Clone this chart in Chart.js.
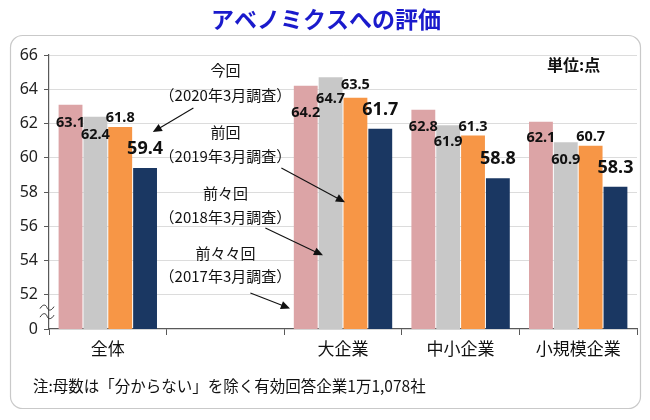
<!DOCTYPE html>
<html>
<head>
<meta charset="utf-8">
<script src="https://cdn.jsdelivr.net/npm/chart.js@4"></script>
<style>
  html, body { margin: 0; padding: 0; background: #fff; }
  #wrap { width: 650px; height: 420px; position: relative; }
</style>
</head>
<body>
<div id="wrap"><canvas id="c"></canvas></div>
<script>
// data
const categories = ["全体", "", "大企業", "中小企業", "小規模企業"];
const survey2017 = [63.1, null, 64.2, 62.8, 62.1];
const survey2018 = [62.4, null, 64.7, 61.9, 60.9];
const survey2019 = [61.8, null, 63.5, 61.3, 60.7];
const survey2020 = [59.4, null, 61.7, 58.8, 58.3];
const yTicks = [50, 52, 54, 56, 58, 60, 62, 64, 66];

const FONT = "'Noto Sans', 'Noto Sans CJK JP', sans-serif";
const JP = "'Noto Sans CJK JP', sans-serif";

// label offsets (px below bar top; negative = above)
const labelOffsets = [
    [18, 0, 27, 17, 16],
    [18, 0, 22, 17, 18],
    [-9, 0, -13, -9, -9],
    [-19, 0, -19, -19, -19]
];

// annotation text + arrows, anchored to categories / values
const notes = [
    { lines: ["今回", "（2020年3月調査）"], v: [65.1, 63.65], tail: [1, -32, 62.9], tip: [0, 45, 61.5] },
    { lines: ["前回", "（2019年3月調査）"], v: [61.5, 60.1], tail: [1, 56, 59.4], tip: [2, 2, 57.4] },
    { lines: ["前々回", "（2018年3月調査）"], v: [57.95, 56.55], tail: [1, 40, 55.9], tip: [2, -20, 54.3] },
    { lines: ["前々々回", "（2017年3月調査）"], v: [54.4, 53.05], tail: [1, 25, 52.1], tip: [2, -53, 51.2] }
];

function arrow(ctx, x1, y1, x2, y2) {
    const a = Math.atan2(y2 - y1, x2 - x1);
    const h = 10;
    ctx.beginPath();
    ctx.moveTo(x1, y1);
    ctx.lineTo(x2 - Math.cos(a) * h * 0.8, y2 - Math.sin(a) * h * 0.8);
    ctx.stroke();
    ctx.beginPath();
    ctx.moveTo(x2, y2);
    ctx.lineTo(x2 - h * Math.cos(a - 0.42), y2 - h * Math.sin(a - 0.42));
    ctx.lineTo(x2 - h * Math.cos(a + 0.42), y2 - h * Math.sin(a + 0.42));
    ctx.closePath();
    ctx.fill();
}

const decor = {
    id: "decor",
    beforeDraw(chart) {
        const ctx = chart.ctx;
        ctx.save();
        // frame
        ctx.strokeStyle = "#c9c9c9";
        ctx.lineWidth = 1.2;
        ctx.beginPath();
        ctx.roundRect(10.5, 35.5, 630, 373, 12);
        ctx.stroke();
        // title
        ctx.fillStyle = "#1a1acc";
        ctx.font = "bold 23px " + JP;
        ctx.textAlign = "center";
        ctx.textBaseline = "middle";
        ctx.fillText("アベノミクスへの評価", 326, 19);
        ctx.restore();
    },
    afterDraw(chart) {
        const ctx = chart.ctx;
        const xs = chart.scales.x, ys = chart.scales.y;
        ctx.save();
        // data labels
        ctx.fillStyle = "#111";
        ctx.textAlign = "center";
        ctx.textBaseline = "middle";
        chart.data.datasets.forEach((ds, i) => {
            const meta = chart.getDatasetMeta(i);
            ctx.font = (i === 3 ? "bold 18px " : "bold 14.5px ") + FONT;
            meta.data.forEach((bar, j) => {
                if (ds.data[j] == null) return;
                ctx.fillText(ds.data[j].toFixed(1), bar.x, bar.y + labelOffsets[i][j]);
            });
        });
        // annotations
        ctx.font = "15px " + JP;
        ctx.strokeStyle = "#111";
        ctx.lineWidth = 1.1;
        notes.forEach(n => {
            const cx = xs.getPixelForValue(1);
            n.lines.forEach((t, k) => ctx.fillText(t, cx, ys.getPixelForValue(n.v[k])));
            arrow(ctx,
                xs.getPixelForValue(n.tail[0]) + n.tail[1], ys.getPixelForValue(n.tail[2]),
                xs.getPixelForValue(n.tip[0]) + n.tip[1], ys.getPixelForValue(n.tip[2]));
        });
        // unit
        ctx.font = "bold 16px " + JP;
        ctx.textAlign = "left";
        ctx.fillText("単位:点", 547, 65);
        // note
        ctx.font = "15.5px " + JP;
        ctx.fillText("注:母数は「分からない」を除く有効回答企業1万1,078社", 33, 386);
        // axis break
        const ax = ys.right;
        ctx.strokeStyle = "#333";
        ctx.lineWidth = 1;
        [51.25, 50.75].forEach(v => {
            const y = ys.getPixelForValue(v);
            ctx.beginPath();
            ctx.moveTo(ax - 9, y + 1);
            ctx.bezierCurveTo(ax - 6, y - 4, ax - 3, y - 3, ax - 2, y);
            ctx.bezierCurveTo(ax - 1, y + 3, ax + 2, y + 4, ax + 5, y - 1);
            ctx.stroke();
        });
        ctx.restore();
    }
};

const ds = (label, data, color) => ({
    label, data,
    backgroundColor: color,
    borderWidth: 0,
    categoryPercentage: 0.845,
    barPercentage: 0.96
});

new Chart(document.getElementById("c"), {
    type: "bar",
    data: {
        labels: categories,
        datasets: [
            ds("2017年3月調査", survey2017, "#dca4a6"),
            ds("2018年3月調査", survey2018, "#c8c8c8"),
            ds("2019年3月調査", survey2019, "#f79646"),
            ds("2020年3月調査", survey2020, "#1a3762")
        ]
    },
    options: {
        responsive: true,
        maintainAspectRatio: false,
        animation: false,
        layout: { padding: { top: 55, right: 13, bottom: 61, left: 0 } },
        plugins: {
            legend: { display: false },
            tooltip: { enabled: false },
            title: { display: false }
        },
        scales: {
            x: {
                afterFit(s) { s.height = 30; },
                grid: { drawOnChartArea: false, tickLength: 6, color: "#595959", offset: true },
                border: { color: "#595959", width: 1.2 },
                ticks: { color: "#111", font: { family: JP, size: 17 }, padding: 3 }
            },
            y: {
                min: 50,
                max: 66,
                afterFit(s) { s.width = 49; },
                afterBuildTicks(s) { s.ticks = yTicks.map(v => ({ value: v })); },
                grid: {
                    color: ctx => ctx.tick && ctx.tick.value === 50 ? "rgba(0,0,0,0)" : "#dcdcdc",
                    tickColor: "#595959",
                    tickLength: 5
                },
                border: { color: "#595959", width: 1.2 },
                ticks: {
                    color: "#222",
                    font: { family: FONT, size: 16 },
                    padding: 6,
                    callback: v => v === 50 ? "0" : v
                }
            }
        }
    },
    plugins: [decor]
});
</script>
</body>
</html>
